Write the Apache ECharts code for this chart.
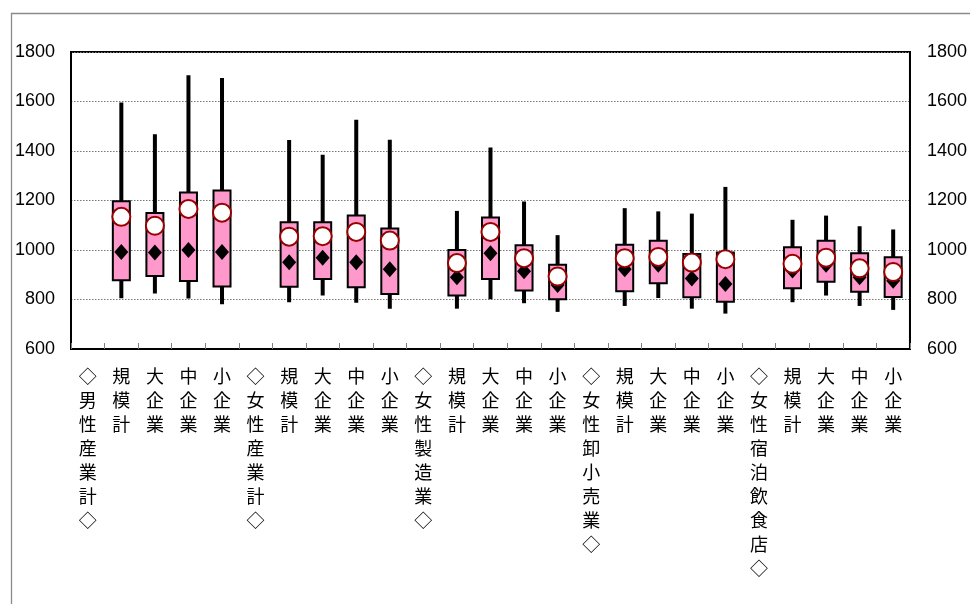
<!DOCTYPE html>
<html>
<head>
<meta charset="utf-8">
<style>
html,body{margin:0;padding:0;background:#fff;}
#chart{width:970px;height:604px;}
</style>
<script src="https://cdn.jsdelivr.net/npm/echarts@6/dist/echarts.min.js"></script>
</head>
<body>
<div id="chart"></div>
<script>
const categories = ['◇男性産業計◇','規模計','大企業','中企業','小企業',
  '◇女性産業計◇','規模計','大企業','中企業','小企業',
  '◇女性製造業◇','規模計','大企業','中企業','小企業',
  '◇女性卸小売業◇','規模計','大企業','中企業','小企業',
  '◇女性宿泊飲食店◇','規模計','大企業','中企業','小企業'];
const lowValues    = [null, 805, 824, 804, 781, null, 789, 816, 787, 763, null, 763, 801, 785, 750, null, 774, 806, 763, 743, null, 789, 816, 774, 758];
const q1Values     = [null, 878, 895, 875, 853, null, 852, 883, 849, 822, null, 816, 883, 836, 801, null, 833, 866, 809, 791, null, 845, 872, 831, 810];
const medianValues = [null, 992, 990, 1000, 992, null, 951, 969, 951, 922, null, 890, 987, 914, 859, null, 922, 940, 885, 863, null, 917, 940, 890, 876];
const q3Values     = [null, 1197, 1150, 1232, 1240, null, 1112, 1112, 1139, 1087, null, 1000, 1131, 1019, 940, null, 1021, 1037, 984, 990, null, 1011, 1037, 987, 971];
const highValues   = [null, 1596, 1468, 1706, 1695, null, 1444, 1385, 1526, 1445, null, 1158, 1414, 1196, 1060, null, 1169, 1156, 1147, 1255, null, 1122, 1139, 1096, 1083];
const meanValues   = [null, 1134, 1098, 1166, 1151, null, 1054, 1056, 1073, 1038, null, 947, 1073, 967, 893, null, 967, 972, 949, 963, null, 944, 969, 926, 911];
const yTicks = [600, 800, 1000, 1200, 1400, 1600, 1800];

const boxData = [];
const medData = [];
const meanData = [];
categories.forEach((c, i) => {
  if (lowValues[i] == null) return;
  boxData.push([i, lowValues[i], q1Values[i], q3Values[i], highValues[i]]);
  medData.push([i, medianValues[i]]);
  meanData.push([i, meanValues[i]]);
});

const chart = echarts.init(document.getElementById('chart'), null, {renderer: 'canvas'});
const numFont = "'Liberation Sans', sans-serif";
const yAxisCommon = {
  type: 'value', min: yTicks[0], max: yTicks[yTicks.length - 1], interval: 200,
  axisLine: {show: true, lineStyle: {color: '#000', width: 2}},
  axisTick: {show: false},
  axisLabel: {color: '#000', fontSize: 18, fontFamily: numFont, formatter: v => String(v)},
};
chart.setOption({
  animation: false,
  backgroundColor: '#fff',
  graphic: [{
    type: 'rect', z: -10, silent: true,
    shape: {x: 11.5, y: 13.5, width: 1000, height: 700},
    style: {fill: 'none', stroke: '#8a8a8a', lineWidth: 1.3}
  }],
  grid: {left: 71, right: 59, top: 52, bottom: 255, show: true, borderColor: '#000', borderWidth: 2, backgroundColor: 'transparent'},
  xAxis: {
    type: 'category', data: categories, boundaryGap: true, z: 5,
    axisLine: {show: true, lineStyle: {color: '#000', width: 2}},
    axisTick: {show: true, inside: true, length: 6, alignWithLabel: false, interval: 0, lineStyle: {color: '#808080', width: 1}},
    axisLabel: {
      interval: 0, color: '#000', fontSize: 18, lineHeight: 24, margin: 15,
      fontFamily: "'Noto Sans CJK JP', sans-serif",
      verticalAlign: 'top',
      formatter: v => Array.from(v).join('\n')
    },
    splitLine: {show: false}
  },
  yAxis: [
    Object.assign({}, yAxisCommon, {position: 'left', axisLabel: Object.assign({}, yAxisCommon.axisLabel, {margin: 16}),
      splitLine: {show: true, lineStyle: {color: '#777', type: [1.5, 1.5], width: 1}}}),
    Object.assign({}, yAxisCommon, {position: 'right', axisLabel: Object.assign({}, yAxisCommon.axisLabel, {margin: 17}),
      splitLine: {show: false}})
  ],
  series: [
    {
      type: 'custom', name: 'box', z: 2,
      data: boxData,
      encode: {x: 0, y: [1, 2, 3, 4]},
      renderItem: (params, api) => {
        const x = api.value(0);
        const pLow = api.coord([x, api.value(1)]);
        const pQ1 = api.coord([x, api.value(2)]);
        const pQ3 = api.coord([x, api.value(3)]);
        const pHigh = api.coord([x, api.value(4)]);
        const bw = 17;
        return {
          type: 'group',
          children: [
            {type: 'line', shape: {x1: pLow[0], y1: pLow[1], x2: pHigh[0], y2: pHigh[1]},
             style: {stroke: '#000', lineWidth: 4}},
            {type: 'rect', shape: {x: pQ3[0] - bw / 2, y: pQ3[1], width: bw, height: pQ1[1] - pQ3[1]},
             style: {fill: '#ff99cc', stroke: '#000', lineWidth: 2}}
          ]
        };
      }
    },
    {
      type: 'scatter', name: '中位数', z: 3, data: medData,
      symbol: 'diamond', symbolSize: [14, 16],
      itemStyle: {color: '#000', opacity: 1}
    },
    {
      type: 'scatter', name: '平均', z: 4, data: meanData,
      symbol: 'circle', symbolSize: 18,
      itemStyle: {color: '#fff', borderColor: '#990000', borderWidth: 2, opacity: 1}
    }
  ]
});
</script>
</body>
</html>
